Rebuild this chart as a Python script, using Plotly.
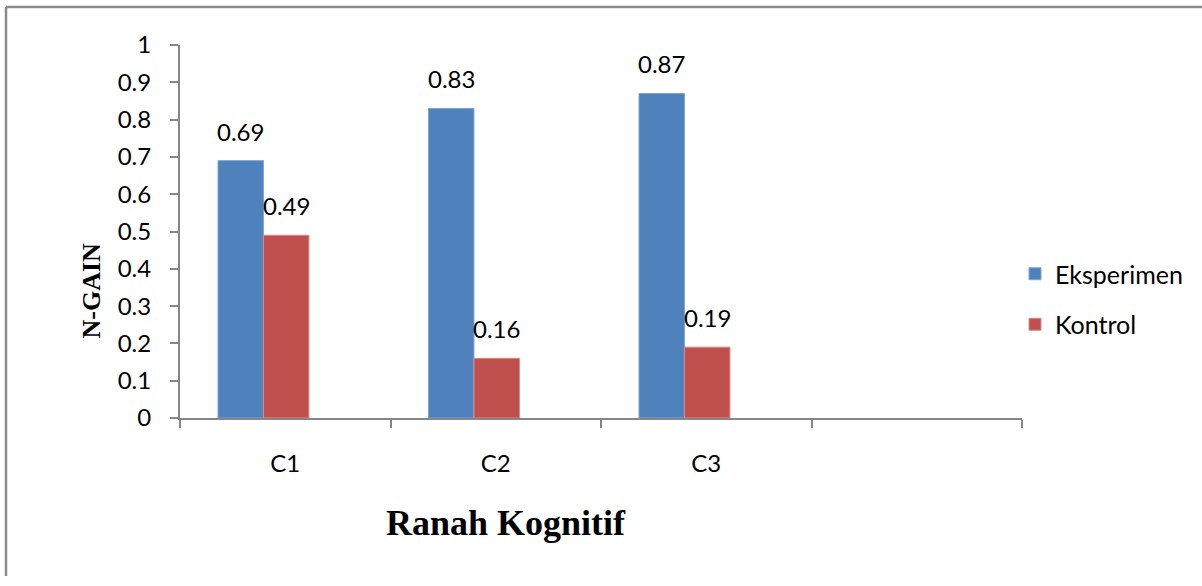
import plotly.graph_objects as go

# Data
categories = ["C1", "C2", "C3"]
axis_categories = ["C1", "C2", "C3", " "]
eksperimen = [0.69, 0.83, 0.87]
kontrol = [0.49, 0.16, 0.19]
y_ticks = [0, 0.1, 0.2, 0.3, 0.4, 0.5, 0.6, 0.7, 0.8, 0.9, 1]
y_ticktext = ["0", "0.1", "0.2", "0.3", "0.4", "0.5", "0.6", "0.7", "0.8", "0.9", "1"]

BLUE = "#4F81BD"
RED = "#C0504D"
AXIS = "#868686"
TICK_FONT = dict(family="Lato", size=24, color="#000000")

W, H = 1202, 586
ML, MR, MT, MB = 180, 180, 45, 168
PW, PH = W - ML - MR, H - MT - MB

bar_w = 0.216
off_blue = -0.3195
off_red = off_blue + bar_w

fig = go.Figure()
fig.add_trace(go.Bar(
    x=categories, y=eksperimen, name="Eksperimen",
    marker=dict(color=BLUE, line=dict(color="#7fa3d3", width=1)),
    width=bar_w, offset=off_blue, legendgroup="a",
))
fig.add_trace(go.Bar(
    x=categories, y=kontrol, name="Kontrol",
    marker=dict(color=RED, line=dict(color="#d98a88", width=1)),
    width=bar_w, offset=off_red, legendgroup="b",
))

# value labels above bars
annotations = []
for i, (e, k) in enumerate(zip(eksperimen, kontrol)):
    for v, off in ((e, off_blue), (k, off_red)):
        annotations.append(dict(
            x=i + off + bar_w / 2, y=v, xref="x", yref="y",
            text=f"{v:g}", showarrow=False, yanchor="bottom", yshift=13,
            font=TICK_FONT,
        ))

def px_x(p):
    return (p - ML) / PW

def px_y(p):
    return (H - MB - p) / PH

# axis titles
annotations.append(dict(
    x=px_x(506), y=px_y(545), xref="paper", yref="paper",
    text="<b>Ranah Kognitif</b>", showarrow=False,
    font=dict(family="Liberation Serif", size=36, color="#000000"),
))
annotations.append(dict(
    x=px_x(74), y=px_y(291), xref="paper", yref="paper",
    text="<b>N-GAIN</b>", showarrow=False, textangle=-90,
    font=dict(family="Liberation Serif", size=26, color="#000000"),
))

# outer frame lines
shapes = [
    dict(type="line", xref="paper", yref="paper",
         x0=px_x(6), x1=px_x(1210), y0=px_y(7), y1=px_y(7),
         line=dict(color="#8c8c8c", width=2.5)),
    dict(type="line", xref="paper", yref="paper",
         x0=px_x(6), x1=px_x(6), y0=px_y(7), y1=px_y(576),
         line=dict(color="#8c8c8c", width=2.5)),
]

fig.update_layout(
    width=W, height=H,
    margin=dict(l=ML, r=MR, t=MT, b=MB),
    paper_bgcolor="white", plot_bgcolor="white",
    barmode="overlay",
    annotations=annotations,
    shapes=shapes,
    legend=dict(
        x=px_x(1015), y=px_y(251), xanchor="left", yanchor="top",
        font=dict(family="Lato", size=25, color="#000000"),
        tracegroupgap=15, bgcolor="rgba(0,0,0,0)",
    ),
    xaxis=dict(
        type="category", categoryorder="array", categoryarray=axis_categories,
        range=[-0.5, 3.5], tickson="boundaries",
        showline=True, linecolor=AXIS, linewidth=2,
        ticks="outside", ticklen=8, tickcolor=AXIS, tickwidth=2,
        showgrid=False, zeroline=False,
        tickfont=TICK_FONT, ticklabelstandoff=23,
    ),
    yaxis=dict(
        range=[0, 1], tickvals=y_ticks, ticktext=y_ticktext,
        showline=True, linecolor=AXIS, linewidth=2,
        ticks="outside", ticklen=8, tickcolor=AXIS, tickwidth=2,
        showgrid=False, zeroline=False,
        tickfont=TICK_FONT, ticklabelstandoff=14,
    ),
)

fig.write_html("out.html")
